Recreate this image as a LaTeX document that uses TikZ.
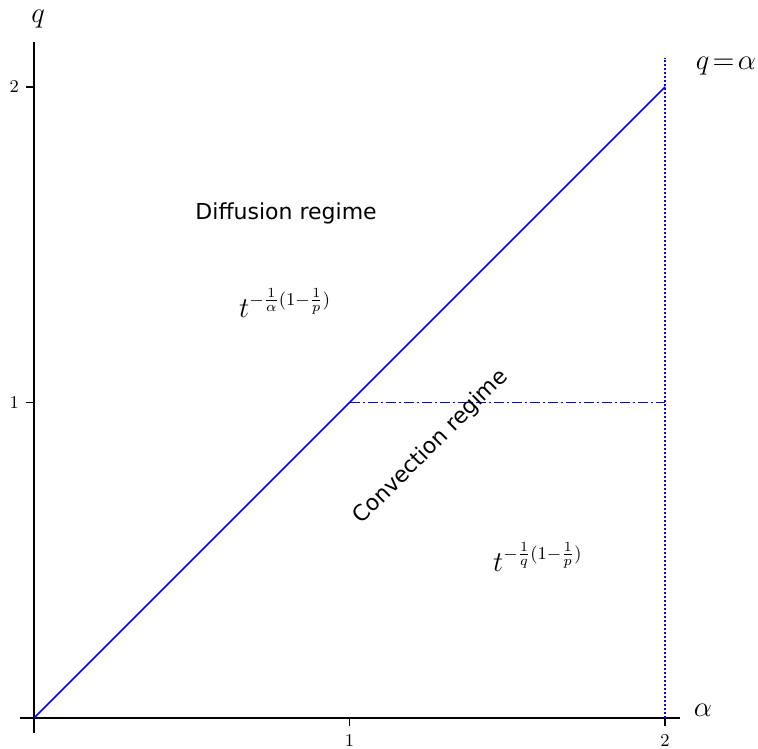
\documentclass[tikz,border=0pt]{standalone}
\usepackage{fontspec}
\setsansfont{DejaVu Sans}
\usetikzlibrary{positioning}
\tikzset{
  axisline/.style={black,line width=0.6pt},
  tickmark/.style={black,line width=0.6pt},
  ticklabel/.style={inner sep=0pt,font=\fontsize{9}{11}\selectfont},
  axislabel/.style={inner sep=0pt,font=\fontsize{14}{16}\selectfont},
  bound/.style={blue,line width=0.8pt},
  splitline/.style={blue,line width=0.8pt,dash pattern=on 5pt off 1.5pt on 1pt off 1.5pt},
  edgeline/.style={blue,line width=0.8pt,dash pattern=on 0.8pt off 1.2pt},
  regime/.style={inner sep=0pt,font=\sffamily\fontsize{11}{13}\selectfont},
  rate/.style={inner sep=0pt,font=\fontsize{13.5}{16}\selectfont}
}
\begin{document}
\begin{tikzpicture}[x=157.75pt,y=157.75pt]
  \useasboundingbox (-0.1078,-0.0983) rectangle (2.2948,2.2757);
  % axes
  \coordinate (O) at (0,0);
  \draw[axisline] (-0.044,0) -- (2.048,0);
  \draw[axisline] (0,-0.048) -- (0,2.143);
  \foreach \v in {1,2}{
    \draw[tickmark] (\v,0) -- (\v,-0.026);
    \draw[tickmark] (0,\v) -- (-0.024,\v);
    \node[ticklabel] (xt\v) at (\v,-0.072) {$\v$};
    \node[ticklabel] (yt\v) at (-0.063,\v) {$\v$};
  }
  \node[axislabel] (qlab) at (0.013,2.215) {$q$};
  \node[axislabel] (alab) at (2.12,0.024) {$\alpha$};

  % regime boundaries
  \coordinate (A) at (1,1);
  \coordinate (B) at (2,2);
  \coordinate (C) at (2,1);
  \draw[bound] (O) -- (B);
  \draw[splitline] (A) -- (C);
  \draw[edgeline] (2,0) -- (2,2.092);
  \node[axislabel] (diag) at (2.193,2.067) {$q\mkern2mu{=}\mkern2mu\alpha$};

  % regimes
  \node[regime] (diff) at (0.799,1.600) {Diffusion regime};
  \node[rate] (rdiff) at (0.796,1.315) {$t^{-\frac{1}{\alpha}(1-\frac{1}{p})}$};
  \node[regime,rotate=45] (conv) at (1.258,0.859) {Convection regime};
  \node[rate] (rconv) at (1.597,0.510) {$t^{-\frac{1}{q}(1-\frac{1}{p})}$};
\end{tikzpicture}
\end{document}
